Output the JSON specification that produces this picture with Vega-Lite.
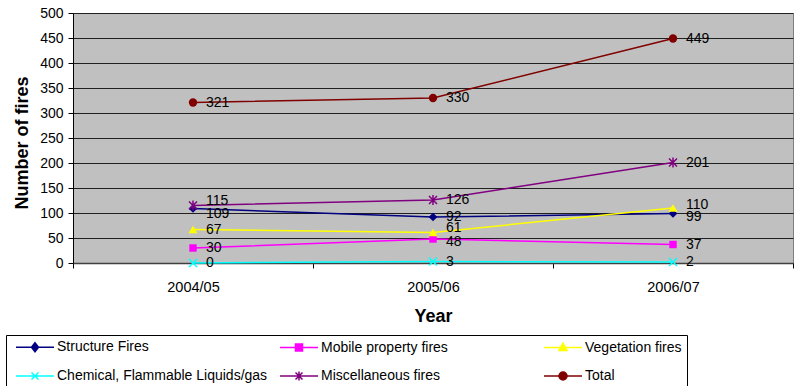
{
  "$schema": "https://vega.github.io/schema/vega-lite/v6.json",
  "width": 720,
  "height": 250,
  "autosize": {"type": "none"},
  "padding": {"left": 73, "top": 13, "right": 3, "bottom": 123},
  "background": "white",
  "config": {
    "font": "Liberation Sans",
    "view": {"fill": "#C0C0C0", "stroke": "#808080", "strokeWidth": 1},
    "axis": {"labelColor": "black", "titleColor": "black", "labelFont": "Liberation Sans", "titleFont": "Liberation Sans"},
    "legend": {
      "orient": "none", "legendX": -67, "legendY": 322, "columns": 3, "direction": "horizontal",
      "gridAlign": "all", "columnPadding": 7, "rowPadding": 13, "padding": 5,
      "strokeColor": "black", "fillColor": "white",
      "labelFont": "Liberation Sans", "labelFontSize": 14, "labelColor": "black", "labelLimit": 400,
      "symbolSize": 100, "symbolStrokeWidth": 1.5, "symbolOffset": 17, "labelOffset": 15, "symbolOpacity": 1
    }
  },
  "data": {
    "values": [
      {"year": "2004/05", "series": "Structure Fires", "value": 109},
      {"year": "2005/06", "series": "Structure Fires", "value": 92},
      {"year": "2006/07", "series": "Structure Fires", "value": 99},
      {"year": "2004/05", "series": "Mobile property fires", "value": 30},
      {"year": "2005/06", "series": "Mobile property fires", "value": 48},
      {"year": "2006/07", "series": "Mobile property fires", "value": 37},
      {"year": "2004/05", "series": "Vegetation fires", "value": 67},
      {"year": "2005/06", "series": "Vegetation fires", "value": 61},
      {"year": "2006/07", "series": "Vegetation fires", "value": 110},
      {"year": "2004/05", "series": "Chemical, Flammable Liquids/gas", "value": 0},
      {"year": "2005/06", "series": "Chemical, Flammable Liquids/gas", "value": 3},
      {"year": "2006/07", "series": "Chemical, Flammable Liquids/gas", "value": 2},
      {"year": "2004/05", "series": "Miscellaneous fires", "value": 115},
      {"year": "2005/06", "series": "Miscellaneous fires", "value": 126},
      {"year": "2006/07", "series": "Miscellaneous fires", "value": 201},
      {"year": "2004/05", "series": "Total", "value": 321},
      {"year": "2005/06", "series": "Total", "value": 330},
      {"year": "2006/07", "series": "Total", "value": 449}
    ]
  },
  "encoding": {
    "x": {
      "field": "year", "type": "ordinal", "bandPosition": 0.5,
      "scale": {"type": "band", "paddingInner": 0, "paddingOuter": 0},
      "axis": {
        "title": "Year", "tickBand": "extent", "labelAngle": 0, "labelFontSize": 14.5,
        "labelPadding": 12, "tickSize": 5, "tickColor": "black", "domainColor": "#404040",
        "domainWidth": 1.5, "grid": false, "titleFontSize": 18, "titleFontWeight": "bold",
        "titleX": 360, "titleY": 58, "titleBaseline": "alphabetic", "titleAlign": "center"
      }
    },
    "y": {
      "field": "value", "type": "quantitative",
      "scale": {"domain": [0, 500], "nice": false},
      "axis": {
        "title": "Number of fires", "values": [0, 50, 100, 150, 200, 250, 300, 350, 400, 450, 500],
        "grid": true, "gridColor": "#202020", "gridOpacity": 1, "gridWidth": 1,
        "labelFontSize": 14, "labelPadding": 5, "tickSize": 5, "tickColor": "black",
        "domainColor": "black", "titleFontSize": 18, "titleFontWeight": "bold",
        "titleAngle": -90, "titleX": -46, "titleY": 129.5, "titleBaseline": "alphabetic", "titleAlign": "center"
      }
    },
    "color": {
      "field": "series", "type": "nominal",
      "scale": {
        "domain": ["Structure Fires", "Mobile property fires", "Vegetation fires", "Chemical, Flammable Liquids/gas", "Miscellaneous fires", "Total"],
        "range": ["#000080", "#FF00FF", "#FFFF00", "#00FFFF", "#800080", "#800000"]
      },
      "legend": {
        "title": null,
        "encode": {
          "symbols": {
            "update": {
              "fill": {"scale": "color", "field": "value"},
              "stroke": {"scale": "color", "field": "value"},
              "shape": {"scale": "shape", "field": "value"},
              "strokeWidth": {"value": 1.5},
              "opacity": {"value": 1},
              "size": {"value": 100}
            }
          }
        }
      }
    }
  },
  "layer": [
    {"mark": {"type": "line", "strokeWidth": 1.5}},
    {"transform": [{"filter": "datum.series === 'Structure Fires'"}], "mark": {"type": "point", "shape": "diamond", "filled": true, "opacity": 1, "size": 75}},
    {"transform": [{"filter": "datum.series === 'Mobile property fires'"}], "mark": {"type": "point", "shape": "square", "filled": true, "opacity": 1, "size": 55}},
    {"transform": [{"filter": "datum.series === 'Vegetation fires'"}], "mark": {"type": "point", "shape": "triangle-up", "filled": true, "opacity": 1, "size": 80}},
    {"transform": [{"filter": "datum.series === 'Chemical, Flammable Liquids/gas'"}], "mark": {"type": "point", "shape": "M-1,-1L1,1M-1,1L1,-1", "filled": false, "opacity": 1, "strokeWidth": 1.5, "size": 64}},
    {"transform": [{"filter": "datum.series === 'Miscellaneous fires'"}], "mark": {"type": "point", "shape": "M-1,-1L1,1M-1,1L1,-1M0,-1.25V1.25", "filled": false, "opacity": 1, "strokeWidth": 1.5, "size": 64}},
    {"transform": [{"filter": "datum.series === 'Total'"}], "mark": {"type": "point", "shape": "circle", "filled": true, "opacity": 1, "size": 70}},
    {
      "transform": [{"filter": "indexof(['Miscellaneous fires|2004/05','Vegetation fires|2005/06','Vegetation fires|2006/07','Structure Fires|2004/05','Mobile property fires|2005/06','Structure Fires|2006/07'], datum.series + '|' + datum.year) < 0"}],
      "mark": {"type": "text", "align": "left", "baseline": "middle", "dx": 13, "fontSize": 14, "font": "Liberation Sans"},
      "encoding": {"text": {"field": "value", "type": "quantitative"}, "color": {"value": "black"}}
    },
    {
      "transform": [{"filter": "indexof(['Miscellaneous fires|2004/05','Vegetation fires|2005/06'], datum.series + '|' + datum.year) >= 0"}],
      "mark": {"type": "text", "align": "left", "baseline": "middle", "dx": 13, "dy": -5, "fontSize": 14, "font": "Liberation Sans"},
      "encoding": {"text": {"field": "value", "type": "quantitative"}, "color": {"value": "black"}}
    },
    {
      "transform": [{"filter": "datum.series === 'Vegetation fires' && datum.year === '2006/07'"}],
      "mark": {"type": "text", "align": "left", "baseline": "middle", "dx": 13, "dy": -3, "fontSize": 14, "font": "Liberation Sans"},
      "encoding": {"text": {"field": "value", "type": "quantitative"}, "color": {"value": "black"}}
    },
    {
      "transform": [{"filter": "datum.series === 'Structure Fires' && datum.year === '2004/05'"}],
      "mark": {"type": "text", "align": "left", "baseline": "middle", "dx": 13, "dy": 5, "fontSize": 14, "font": "Liberation Sans"},
      "encoding": {"text": {"field": "value", "type": "quantitative"}, "color": {"value": "black"}}
    },
    {
      "transform": [{"filter": "indexof(['Mobile property fires|2005/06','Structure Fires|2006/07'], datum.series + '|' + datum.year) >= 0"}],
      "mark": {"type": "text", "align": "left", "baseline": "middle", "dx": 13, "dy": 3, "fontSize": 14, "font": "Liberation Sans"},
      "encoding": {"text": {"field": "value", "type": "quantitative"}, "color": {"value": "black"}}
    },
    {
      "mark": {"type": "point", "opacity": 0},
      "encoding": {
        "shape": {
          "field": "series", "type": "nominal",
          "scale": {
            "domain": ["Structure Fires", "Mobile property fires", "Vegetation fires", "Chemical, Flammable Liquids/gas", "Miscellaneous fires", "Total"],
            "range": [
              "M-3.8,0H3.8M0,-0.9L0.7,0L0,0.9L-0.7,0Z",
              "M-3.8,0H3.8M-0.7,-0.7H0.7V0.7H-0.7Z",
              "M-3.8,0H3.8M0,-0.9L0.8,0.6H-0.8Z",
              "M-3.8,0H3.8M-0.7,-0.7L0.7,0.7M-0.7,0.7L0.7,-0.7",
              "M-3.8,0H3.8M-0.7,-0.7L0.7,0.7M-0.7,0.7L0.7,-0.7M0,-0.9V0.9",
              "M-3.8,0H3.8M-0.8,0A0.8,0.8 0 1,0 0.8,0A0.8,0.8 0 1,0 -0.8,0Z"
            ]
          },
          "legend": {"title": null}
        }
      }
    }
  ]
}
